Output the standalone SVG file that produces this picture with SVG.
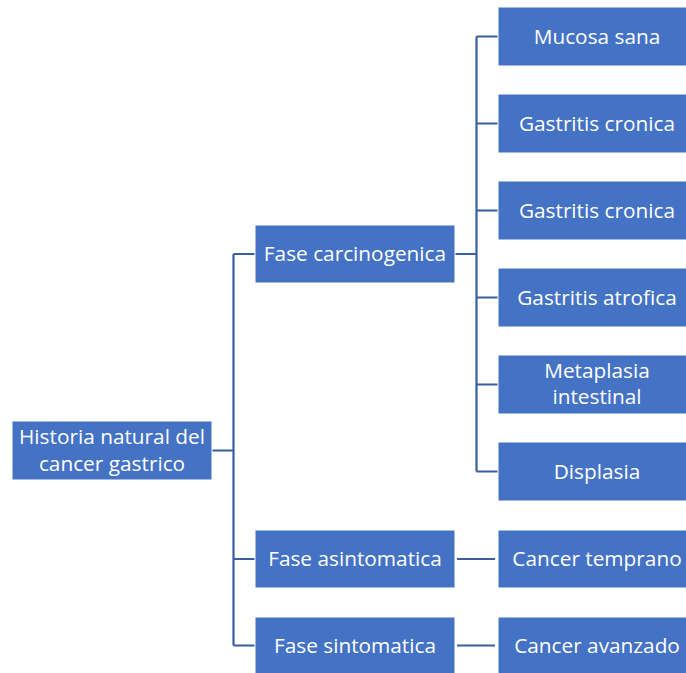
<svg xmlns="http://www.w3.org/2000/svg" width="686" height="673" viewBox="0 0 686 673">
<style>
.box{fill:#4472C4;stroke:#ffffff;stroke-width:1}
.t{font-family:"Open Sans","Liberation Sans",sans-serif;font-size:20.8px;fill:#ffffff;text-anchor:middle}
.c{fill:none;stroke:#3B5EA0;stroke-width:2.2}
</style>
<rect width="686" height="673" fill="#ffffff"/>
<g id="connectors">
<path class="c" d="M212 450.5H233.5M233.5 254V645.5M233.5 254H255M233.5 559H255M233.5 645.5H255"/>
<path class="c" d="M455 254H476.5M476.5 36.5V471.5M476.5 36.5H498M476.5 123.5H498M476.5 210.5H498M476.5 297.5H498M476.5 384.5H498M476.5 471.5H498"/>
<path class="c" d="M457 559H495M457 645.5H495"/>
</g>
<g id="root"><rect class="box" x="12" y="421" width="200" height="59"/><text class="t" x="112" y="444">Historia natural del</text><text class="t" x="112" y="471">cancer gastrico</text></g>
<g id="fase-carcinogenica"><rect class="box" x="255" y="225" width="200" height="58"/><text class="t" x="355" y="261">Fase carcinogenica</text></g>
<g id="fase-asintomatica"><rect class="box" x="255" y="530" width="200" height="58"/><text class="t" x="355" y="566">Fase asintomatica</text></g>
<g id="fase-sintomatica"><rect class="box" x="255" y="617" width="200" height="58"/><text class="t" x="355" y="653">Fase sintomatica</text></g>
<g id="mucosa-sana"><rect class="box" x="498" y="7" width="190" height="59"/><text class="t" x="597" y="44">Mucosa sana</text></g>
<g id="gastritis-cronica-1"><rect class="box" x="498" y="94" width="190" height="59"/><text class="t" x="597" y="131">Gastritis cronica</text></g>
<g id="gastritis-cronica-2"><rect class="box" x="498" y="181" width="190" height="59"/><text class="t" x="597" y="218">Gastritis cronica</text></g>
<g id="gastritis-atrofica"><rect class="box" x="498" y="268" width="190" height="59"/><text class="t" x="597" y="305">Gastritis atrofica</text></g>
<g id="metaplasia"><rect class="box" x="498" y="355" width="190" height="59"/><text class="t" x="597" y="378">Metaplasia</text><text class="t" x="597" y="404">intestinal</text></g>
<g id="displasia"><rect class="box" x="498" y="442" width="190" height="59"/><text class="t" x="597" y="479">Displasia</text></g>
<g id="cancer-temprano"><rect class="box" x="498" y="530" width="190" height="58"/><text class="t" x="597" y="566">Cancer temprano</text></g>
<g id="cancer-avanzado"><rect class="box" x="498" y="617" width="190" height="58"/><text class="t" x="597" y="653">Cancer avanzado</text></g>
</svg>
